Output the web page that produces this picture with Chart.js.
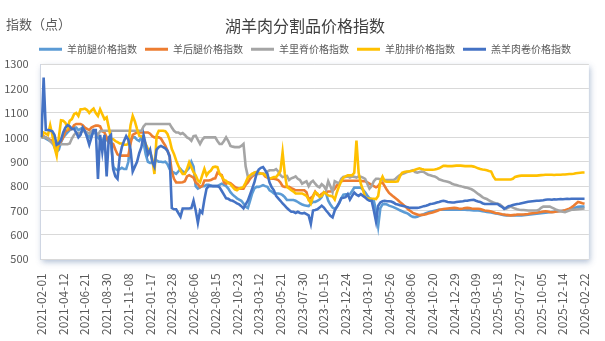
<!DOCTYPE html>
<html>
<head>
<meta charset="utf-8">
<script src="https://cdn.jsdelivr.net/npm/chart.js@4.4.1/dist/chart.umd.min.js"></script>
<style>
  html, body { margin: 0; padding: 0; background: #ffffff; }
  #chart { display: block; }
</style>
</head>
<body>
<canvas id="chart" width="605" height="341"></canvas>
<script>
// tick labels, one every 10 points
const tickLabels = [
    "2021-02-01", "2021-04-12", "2021-06-21", "2021-08-30", "2021-11-08", "2022-01-17",
    "2022-03-28", "2022-06-06", "2022-08-15", "2022-10-23", "2023-03-12", "2023-05-21",
    "2023-07-30", "2023-10-15", "2023-12-24", "2024-03-10", "2024-05-26", "2024-08-06",
    "2024-10-20", "2024-12-29", "2025-03-09", "2025-05-18", "2025-07-27", "2025-10-05",
    "2025-12-14", "2026-02-22"
];

const seriesNames = ["羊前腿价格指数", "羊后腿价格指数", "羊里脊价格指数", "羊肋排价格指数", "羔羊肉卷价格指数"];

const frontLeg = [
    1000,1000,995,990,985,980,960,940,950,980,
    1000,1010,1020,1030,1035,1040,1040,1030,1035,1040,
    1025,1010,1000,1010,1020,1015,1000,990,985,1000,
    990,980,975,880,870,865,870,875,870,870,
    900,990,1000,1000,990,985,1000,980,930,900,
    895,895,900,905,900,900,898,900,890,870,
    860,855,850,860,870,860,855,865,875,900,
    880,800,790,795,800,800,805,805,803,800,
    800,800,805,810,805,800,790,775,765,758,
    750,745,740,729,715,710,740,770,790,797,
    797,800,804,800,797,783,778,770,770,770,
    768,763,755,743,743,743,743,740,735,729,
    725,722,720,718,728,736,735,740,745,755,
    775,770,740,725,712,707,715,730,750,765,
    767,767,767,780,794,794,794,794,785,775,
    762,750,747,740,700,636,710,725,727,725,
    720,717,714,710,706,701,697,693,690,685,
    678,674,673,675,678,682,685,689,692,695,
    697,699,701,703,703,703,703,703,703,703,
    703,703,703,703,703,703,702,702,701,700,
    701,700,699,697,696,694,693,692,690,688,
    687,685,683,681,680,680,680,680,680,680,
    680,680,681,682,683,684,685,686,687,688,
    689,690,691,692,693,694,695,696,697,698,
    699,700,702,704,707,709,712,715,716,716,
    716
];

const hindLeg = [
    1000,1005,1000,995,990,985,970,955,965,985,
    1000,1025,1030,1035,1035,1050,1055,1055,1055,1050,
    1040,1035,1030,1040,1045,1048,1048,1045,1025,1020,
    1000,980,975,973,950,930,925,925,925,925,
    925,975,1010,1015,1020,1020,1020,1020,1020,1020,
    1015,1005,1000,1000,1000,995,980,966,945,925,
    860,830,815,815,815,816,820,840,845,840,
    835,815,808,796,800,823,823,823,825,830,
    832,855,850,845,815,810,815,812,805,797,
    792,790,790,790,805,815,830,840,846,851,
    851,851,851,840,835,830,830,830,828,825,
    815,800,797,797,797,792,788,783,783,783,
    783,783,775,745,752,760,777,765,760,768,
    772,776,778,778,780,790,803,812,820,822,
    822,822,822,822,822,822,822,822,820,820,
    815,810,805,800,795,800,812,815,800,785,
    772,765,757,750,743,735,728,720,712,703,
    697,690,687,684,681,682,683,685,688,690,
    692,695,698,702,704,706,707,708,709,710,
    711,710,708,707,708,710,711,710,708,707,
    707,707,706,703,700,699,698,696,693,690,
    689,687,685,684,682,681,680,681,682,684,
    684,684,684,685,686,688,689,690,691,693,
    694,696,697,696,694,693,694,696,697,698,
    699,701,704,708,713,720,728,735,733,730,
    728
];

const tenderloin = [
    1000,1000,1000,995,985,975,975,972,972,972,
    972,972,972,975,995,1010,1020,1015,1020,1025,
    1025,1020,1015,1025,1030,1020,1010,1025,1027,1027,
    1027,1027,1027,1027,1027,1027,1027,1027,1027,1027,
    1027,1027,1027,1027,1027,1027,1027,1045,1055,1055,
    1055,1055,1055,1055,1055,1055,1055,1055,1055,1055,
    1040,1027,1020,1020,1014,1018,1010,1000,995,986,
    1005,1007,990,973,990,1000,1000,1000,1000,1000,
    1000,985,973,973,985,1000,985,965,962,960,
    960,960,965,973,880,840,840,845,855,850,
    850,851,851,851,860,865,865,865,870,860,
    845,837,840,842,825,832,835,840,830,825,
    810,815,820,800,815,822,810,800,795,808,
    800,785,820,800,775,820,815,810,830,838,
    838,840,835,840,838,835,840,838,835,830,
    810,790,800,820,830,830,828,825,825,825,
    825,825,825,830,838,845,850,853,857,860,
    862,865,858,855,858,860,858,852,847,845,
    842,840,835,828,825,822,820,818,815,810,
    807,805,802,800,797,795,793,790,787,782,
    775,768,762,755,750,747,742,737,733,730,
    728,725,718,710,708,712,716,712,708,705,
    703,702,702,701,700,700,700,700,700,703,
    711,716,716,716,716,712,708,703,700,697,
    695,693,697,700,703,703,704,705,706,707,
    708
];

const ribs = [
    1000,1020,1015,1010,1050,1010,960,925,1000,1070,
    1068,1060,1040,1068,1075,1095,1100,1088,1115,1115,
    1118,1112,1100,1110,1118,1100,1088,1115,1095,1075,
    1082,1040,995,993,985,980,975,975,970,970,
    973,1050,1088,1065,1034,1007,1005,993,973,952,
    939,912,850,1007,1027,1027,1027,1025,1014,990,
    952,932,905,884,864,850,850,871,898,878,
    857,844,823,816,844,871,844,857,864,878,
    880,878,850,840,825,822,812,808,797,787,
    783,790,793,797,815,835,844,851,855,858,
    855,852,851,845,838,830,834,837,837,848,
    862,939,851,797,790,783,778,770,770,770,
    770,765,760,745,729,756,775,770,756,760,
    775,770,762,760,758,745,775,800,820,835,
    840,844,844,844,855,987,855,810,785,755,
    750,748,748,748,747,760,820,839,820,818,
    818,818,818,818,820,840,855,858,860,860,
    862,863,867,870,873,870,868,867,867,867,
    867,868,870,873,878,883,883,882,882,882,
    883,884,884,884,883,882,882,882,882,880,
    877,873,870,868,867,865,862,860,840,827,
    827,827,827,827,827,827,827,830,838,840,
    842,843,843,843,843,843,843,843,843,844,
    845,846,847,847,847,847,846,847,847,847,
    848,848,849,850,850,851,853,854,855,856,
    856
];

const lambRoll = [
    1000,1245,1030,1030,1028,1025,1010,970,975,990,
    1020,1040,1050,1045,1035,1035,1020,1000,1010,1040,
    1025,1000,970,1000,1030,1030,830,1010,940,1010,
    840,1000,1010,870,840,830,920,960,985,1005,
    990,950,860,880,900,935,960,1010,970,930,
    950,900,880,950,960,965,960,955,945,920,
    710,705,705,690,675,708,708,708,708,710,
    740,700,650,700,690,745,790,800,800,800,
    800,800,795,780,765,750,748,742,740,735,
    729,725,718,709,725,740,765,790,815,850,
    868,875,878,865,851,815,795,783,760,750,
    740,729,720,710,702,695,695,690,695,690,
    688,690,685,680,645,700,702,705,712,720,
    712,700,690,678,672,700,715,730,750,752,
    755,767,745,760,774,765,760,767,760,754,
    745,740,740,700,655,720,733,738,740,738,
    738,737,733,727,725,722,720,718,715,712,
    711,711,711,711,712,715,718,720,723,727,
    728,730,733,735,738,740,738,735,734,733,
    733,735,736,737,738,740,740,742,743,744,
    740,737,735,730,727,727,727,727,727,727,
    727,720,715,707,712,718,720,723,725,727,
    728,730,732,734,736,737,738,739,740,740,
    741,742,744,745,745,744,746,745,746,747,
    746,747,748,747,748,748,748,748,748,748,
    748
];

const colors = ["#5B9BD5", "#ED7D31", "#A5A5A5", "#FFC000", "#4472C4"];
const FONT = '"Noto Sans CJK SC", "Noto Sans", sans-serif';

function toPoints(values) {
    return values.map(function (v, i) { return { x: i, y: v }; });
}

const allSeries = [frontLeg, hindLeg, tenderloin, ribs, lambRoll];

const datasets = allSeries.map(function (values, k) {
    return {
        label: seriesNames[k],
        data: toPoints(values),
        borderColor: colors[k],
        backgroundColor: colors[k],
        borderWidth: 2.6,
        pointRadius: 0,
        tension: 0,
        order: 5 - k,   // later series drawn on top, as in the original
    };
});

// white plot area with a soft shadow, plus the unit label at the top left
const plotDecor = {
    id: "plotDecor",
    beforeDraw(chart) {
        const { ctx, chartArea } = chart;
        ctx.save();
        ctx.fillStyle = "#ffffff";
        ctx.fillRect(0, 0, chart.width, chart.height);
        ctx.shadowColor = "rgba(80, 110, 160, 0.45)";
        ctx.shadowBlur = 6;
        ctx.shadowOffsetX = 1;
        ctx.shadowOffsetY = 3;
        ctx.fillRect(chartArea.left, chartArea.top, chartArea.right - chartArea.left, chartArea.bottom - chartArea.top);
        ctx.restore();
    },
    afterDraw(chart) {
        const ctx = chart.ctx;
        ctx.save();
        ctx.font = "13px " + FONT;
        ctx.fillStyle = "#595959";
        ctx.textBaseline = "middle";
        ctx.textAlign = "left";
        ctx.fillText("指数（点）", 6, 24);
        ctx.restore();
    }
};

new Chart(document.getElementById("chart").getContext("2d"), {
    type: "line",
    data: { datasets: datasets },
    plugins: [plotDecor],
    options: {
        responsive: false,
        animation: false,
        devicePixelRatio: 1,
        layout: { padding: { left: 12, right: 7, top: 0, bottom: 0 } },
        plugins: {
            title: {
                display: true,
                text: "湖羊肉分割品价格指数",
                color: "#404040",
                font: { family: FONT, size: 16, weight: "normal" },
                padding: { top: 16, bottom: 1 },
            },
            legend: {
                display: true,
                labels: {
                    font: { family: FONT, size: 10 },
                    color: "#595959",
                    boxWidth: 23,
                    boxHeight: 3,
                    padding: 8,
                    sort: function (a, b) { return a.datasetIndex - b.datasetIndex; },
                    generateLabels: function (chart) {
                        return Chart.defaults.plugins.legend.labels.generateLabels(chart).map(function (item) {
                            item.lineWidth = 0;
                            item.strokeStyle = item.fillStyle;
                            return item;
                        });
                    },
                },
            },
            tooltip: { enabled: false },
        },
        scales: {
            x: {
                type: "linear",
                min: -0.4,
                max: 252,
                afterBuildTicks: function (axis) {
                    axis.ticks = tickLabels.map(function (t, k) { return { value: k * 10 }; });
                },
                afterFit: function (scale) { scale.height = 81.7; },
                grid: { display: false },
                border: { display: false },
                ticks: {
                    autoSkip: false,
                    minRotation: 90,
                    maxRotation: 90,
                    padding: 6,
                    color: "#595959",
                    font: { family: FONT, size: 12 },
                    callback: function (value) { return tickLabels[Math.round(value / 10)]; },
                },
            },
            y: {
                min: 500,
                max: 1300,
                afterFit: function (scale) {
                    scale.width = 28.6;
                    // let the tick labels reach past the narrow scale box
                    scale._computeLabelArea = function () { return undefined; };
                },
                grid: { color: "#d9d9d9", lineWidth: 1, drawTicks: false },
                border: { display: true, color: "#cfd6e3" },
                ticks: {
                    stepSize: 100,
                    padding: 12,
                    color: "#595959",
                    font: { family: FONT, size: 11 },
                    callback: function (value) { return String(value); },
                },
            },
        },
    },
});
</script>
</body>
</html>
